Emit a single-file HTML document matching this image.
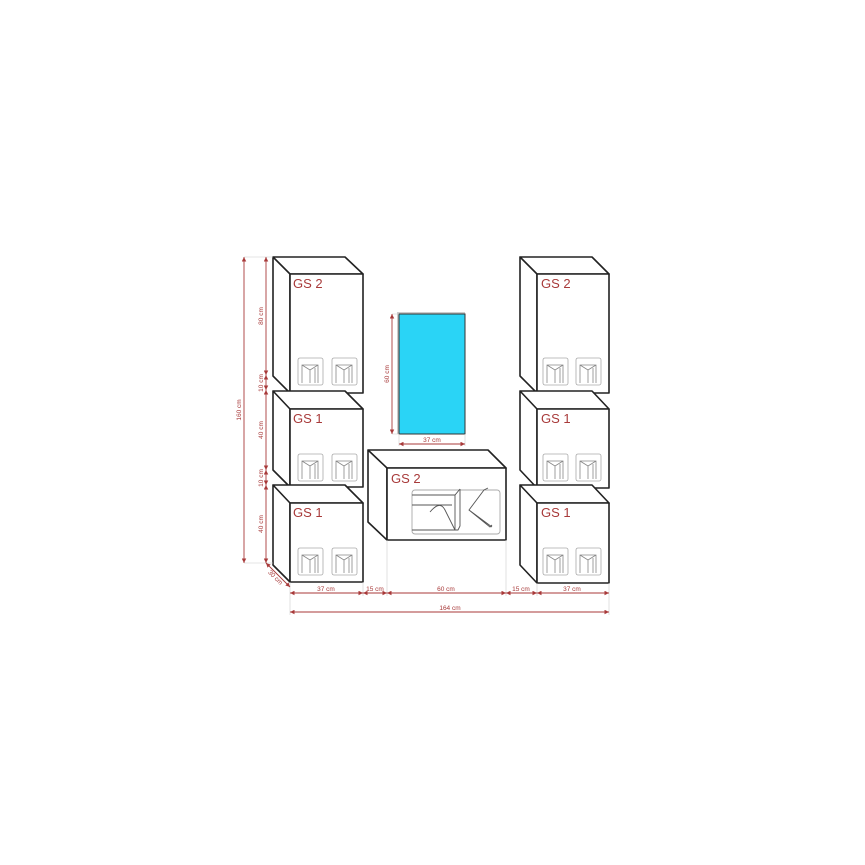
<!DOCTYPE html>
<html><head><meta charset="utf-8"><style>body{margin:0;background:#fff}svg{display:block}</style></head><body>
<svg width="865" height="865" viewBox="0 0 865 865" xmlns="http://www.w3.org/2000/svg" font-family="Liberation Sans, sans-serif">
<defs>
<g id="h">
<rect x="0" y="0" width="25" height="27" rx="2" fill="none" stroke="#aaa" stroke-width="0.8"/>
<path d="M4 25 V7 H20 V25 M4 7 L12 12 V25 M12 12 L20 7 M17 10 V25" fill="none" stroke="#888" stroke-width="0.8"/>
</g>
<marker id="a" viewBox="0 0 6 6" refX="6" refY="3" markerWidth="5" markerHeight="5" orient="auto-start-reverse"><path d="M0 0 L6 3 L0 6z" fill="#a83a3a"/></marker>
</defs>
<g stroke="#222" stroke-width="1.6" fill="#fff" stroke-linejoin="round">
<!-- left column -->
<path d="M273 257 H345 L363 274 H290 Z M273 257 V376 L290 393 V274 Z"/><rect x="290" y="274" width="73" height="119"/>
<path d="M273 391 H345 L363 409 H290 Z M273 391 V470 L290 487 V409 Z"/><rect x="290" y="409" width="73" height="78"/>
<path d="M273 485 H345 L363 503 H290 Z M273 485 V565 L290 582 V503 Z"/><rect x="290" y="503" width="73" height="79"/>
<!-- right column -->
<path d="M520 257 H592 L609 274 H537 Z M520 257 V376 L537 393 V274 Z"/><rect x="537" y="274" width="72" height="119"/>
<path d="M520 391 H592 L609 409 H537 Z M520 391 V470 L537 488 V409 Z"/><rect x="537" y="409" width="72" height="79"/>
<path d="M520 485 H592 L609 503 H537 Z M520 485 V565 L537 583 V503 Z"/><rect x="537" y="503" width="72" height="80"/>
<!-- center -->
<path d="M368 450 H488 L506 468 H387 Z M368 450 V522 L387 540 V468 Z"/><rect x="387" y="468" width="119" height="72"/>
</g>
<!-- mirror -->
<rect x="397" y="312" width="68" height="122" fill="#ccc"/>
<rect x="399" y="314" width="66" height="120" fill="#2ad4f6" stroke="#333" stroke-width="1"/>
<!-- handles -->
<use href="#h" x="298" y="358"/><use href="#h" x="332" y="358"/>
<use href="#h" x="298" y="454"/><use href="#h" x="332" y="454"/>
<use href="#h" x="298" y="548"/><use href="#h" x="332" y="548"/>
<use href="#h" x="543" y="358"/><use href="#h" x="576" y="358"/>
<use href="#h" x="543" y="454"/><use href="#h" x="576" y="454"/>
<use href="#h" x="543" y="548"/><use href="#h" x="576" y="548"/>
<!-- center panel -->
<rect x="412" y="490" width="88" height="44" rx="3" fill="none" stroke="#aaa" stroke-width="0.9"/>
<g fill="none" stroke="#555" stroke-width="0.9">
<path d="M412 495 H455 L460 489 M412 505 H452 M455 495 V530 M412 530 H458 L460 526 V489 M430 512 Q440 500 445 510 L455 530"/>
<path d="M488 488 L484 490 L469 510 L490 527 L492 525 M469 510 L492 527"/>
</g>
<!-- labels -->
<g fill="#a83a3a" font-size="13">
<text x="293" y="288">GS 2</text><text x="293" y="423">GS 1</text><text x="293" y="517">GS 1</text>
<text x="541" y="288">GS 2</text><text x="541" y="423">GS 1</text><text x="541" y="517">GS 1</text>
<text x="391" y="483">GS 2</text>
</g>
<!-- extension lines -->
<g stroke="#ccc" stroke-width="0.6">
<path d="M290 582 V615 M363 582 V596 M387 540 V596 M506 540 V596 M537 583 V596 M609 583 V615 M244 257 H273 M244 563 H273 M399 434 V446 M465 434 V446 M392 314 H399 M392 434 H399"/>
</g>
<!-- dims -->
<g stroke="#a83a3a" stroke-width="0.9" fill="none" marker-start="url(#a)" marker-end="url(#a)">
<line x1="244" y1="257" x2="244" y2="563"/>
<line x1="266" y1="257" x2="266" y2="375"/>
<line x1="266" y1="375" x2="266" y2="390"/>
<line x1="266" y1="390" x2="266" y2="470"/>
<line x1="266" y1="470" x2="266" y2="485"/>
<line x1="266" y1="485" x2="266" y2="563"/>
<line x1="266" y1="563" x2="290" y2="587"/>
<line x1="392" y1="314" x2="392" y2="434"/>
<line x1="399" y1="444" x2="465" y2="444"/>
<line x1="290" y1="593" x2="363" y2="593"/>
<line x1="363" y1="593" x2="387" y2="593"/>
<line x1="387" y1="593" x2="506" y2="593"/>
<line x1="506" y1="593" x2="537" y2="593"/>
<line x1="537" y1="593" x2="609" y2="593"/>
<line x1="290" y1="612" x2="609" y2="612"/>
</g>
<g fill="#a83a3a" font-size="6.5" text-anchor="middle">
<text transform="translate(241 410) rotate(-90)">160 cm</text>
<text transform="translate(263 316) rotate(-90)">80 cm</text>
<text transform="translate(263 383) rotate(-90)">10 cm</text>
<text transform="translate(263 430) rotate(-90)">40 cm</text>
<text transform="translate(263 478) rotate(-90)">10 cm</text>
<text transform="translate(263 524) rotate(-90)">40 cm</text>
<text transform="translate(274 579) rotate(45)">30 cm</text>
<text transform="translate(389 374) rotate(-90)">60 cm</text>
<text x="432" y="442">37 cm</text>
<text x="326" y="591">37 cm</text>
<text x="375" y="591">15 cm</text>
<text x="446" y="591">60 cm</text>
<text x="521" y="591">15 cm</text>
<text x="572" y="591">37 cm</text>
<text x="450" y="610">164 cm</text>
</g>
</svg>
</body></html>
